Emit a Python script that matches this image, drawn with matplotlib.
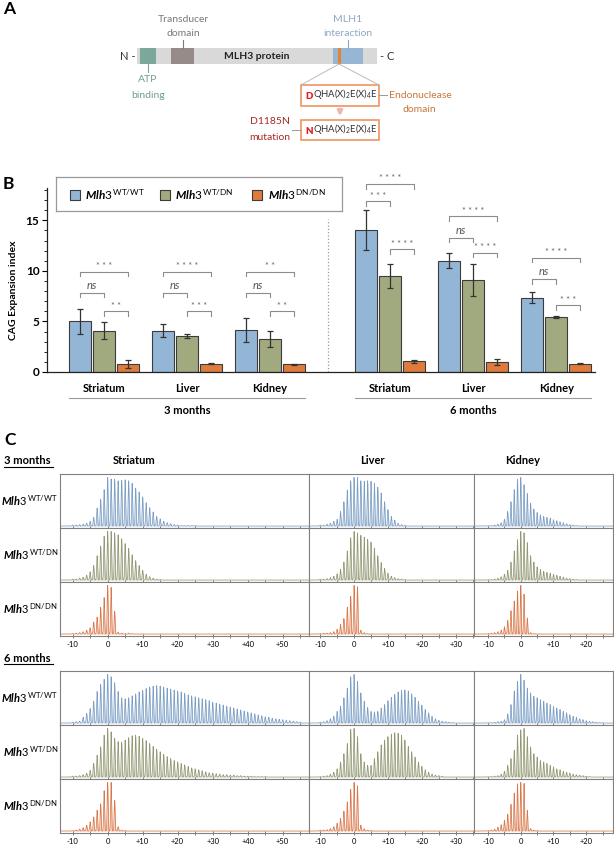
import numpy as np
import matplotlib
matplotlib.use('Agg')
import matplotlib.pyplot as plt
from matplotlib.patches import Rectangle
from matplotlib.lines import Line2D
from matplotlib.ticker import MultipleLocator

plt.rcParams['font.family'] = ['Lato', 'DejaVu Sans']
plt.rcParams['mathtext.fontset'] = 'custom'
plt.rcParams['mathtext.rm'] = 'Lato'
plt.rcParams['mathtext.it'] = 'Lato:italic:bold'
plt.rcParams['mathtext.bf'] = 'Lato:bold'

# ---------------- data ----------------
tissues = ['Striatum', 'Liver', 'Kidney']
ages = ['3 months', '6 months']
genotypes = ['WT/WT', 'WT/DN', 'DN/DN']

# panel B: CAG expansion index, order = 3m Str, Liv, Kid, 6m Str, Liv, Kid
cag_wtwt = [5.0, 4.1, 4.14, 14.04, 11.0, 7.35]
cag_wtdn = [4.1, 3.54, 3.28, 9.5, 9.1, 5.43]
cag_dndn = [0.83, 0.83, 0.76, 1.06, 0.99, 0.83]
err_wtwt = [1.25, 0.65, 1.17, 1.95, 0.75, 0.52]
err_wtdn = [0.87, 0.2, 0.78, 1.15, 1.55, 0.06]
err_dndn = [0.4, 0.05, 0.05, 0.15, 0.28, 0.03]

# significance: pairs (WT-DN, WT-WT/DN, WT/DN-DN)
sig_pairs = [(0, 2), (0, 1), (1, 2)]
sig_heights = [[9.9, 7.85, 6.03], [9.9, 7.85, 6.03], [9.9, 7.85, 6.03],
               [18.6, 16.9, 12.15], [15.4, 13.3, 11.8], [11.3, 9.2, 6.6]]
sig_labels = [['***', 'ns', '**'], ['****', 'ns', '***'], ['**', 'ns', '**'],
              ['****', '***', '****'], ['****', 'ns', '****'], ['****', 'ns', '***']]

# panel C: relative peak heights per CAG repeat change, first value at -10
REPEAT_START = -10
str_3m_wtwt = [0.02, 0.02, 0.03, 0.04, 0.06, 0.10, 0.18, 0.37, 0.55, 0.75, 1.00, 0.97, 0.96, 0.93,
               0.94, 0.95, 0.93, 0.88, 0.78, 0.70, 0.60, 0.48, 0.38, 0.29, 0.20, 0.15, 0.10, 0.07,
               0.05, 0.03, 0.02, 0.01, 0.01, 0.01, 0.01, 0.01]
str_3m_wtdn = [0.02, 0.02, 0.04, 0.06, 0.10, 0.17, 0.30, 0.50, 0.70, 0.90, 1.00, 1.00, 0.97, 0.93,
               0.85, 0.75, 0.65, 0.52, 0.40, 0.30, 0.20, 0.12, 0.07, 0.04, 0.02, 0.01]
str_3m_dndn = [0.01, 0.02, 0.03, 0.05, 0.08, 0.13, 0.25, 0.35, 0.55, 0.75, 1.00, 0.96, 0.47, 0.04,
               0.02, 0.01, 0.02, 0.01]
liv_3m_wtwt = [0.02, 0.02, 0.04, 0.06, 0.10, 0.14, 0.30, 0.50, 0.74, 0.93, 1.00, 1.00, 0.93, 0.92,
               0.93, 0.92, 0.88, 0.80, 0.68, 0.50, 0.34, 0.20, 0.12, 0.06, 0.03, 0.015]
liv_3m_wtdn = [0.02, 0.02, 0.03, 0.05, 0.08, 0.13, 0.22, 0.37, 0.60, 0.87, 1.00, 0.97, 0.92, 0.88,
               0.84, 0.78, 0.66, 0.50, 0.36, 0.24, 0.14, 0.08, 0.05, 0.03, 0.02, 0.01]
liv_3m_dndn = [0.01, 0.02, 0.02, 0.03, 0.05, 0.10, 0.20, 0.32, 0.55, 0.78, 1.00, 0.97, 0.08, 0.03, 0.01]
kid_3m_wtwt = [0.01, 0.01, 0.02, 0.04, 0.07, 0.14, 0.30, 0.50, 0.75, 0.96, 1.00, 0.85, 0.67, 0.47,
               0.35, 0.28, 0.23, 0.20, 0.18, 0.16, 0.13, 0.11, 0.09, 0.07, 0.05, 0.03, 0.02, 0.01]
kid_3m_wtdn = [0.01, 0.01, 0.02, 0.04, 0.07, 0.12, 0.20, 0.37, 0.60, 0.83, 1.00, 0.97, 0.77, 0.50,
               0.37, 0.27, 0.22, 0.18, 0.16, 0.14, 0.12, 0.10, 0.08, 0.06, 0.04, 0.03, 0.02, 0.01]
kid_3m_dndn = [0.01, 0.02, 0.03, 0.05, 0.08, 0.15, 0.28, 0.48, 0.68, 0.88, 1.00, 0.82, 0.33, 0.03, 0.01]

str_6m_wtwt = [0.02, 0.03, 0.04, 0.12, 0.20, 0.30, 0.45, 0.65, 0.80, 0.90, 1.00, 0.95, 0.83, 0.65,
               0.52, 0.50, 0.52, 0.56, 0.60, 0.64, 0.67, 0.71, 0.74, 0.76, 0.77, 0.76, 0.74, 0.72,
               0.70, 0.68, 0.66, 0.64, 0.61, 0.58, 0.56, 0.54, 0.52, 0.50, 0.48, 0.46, 0.43, 0.41,
               0.39, 0.37, 0.35, 0.33, 0.31, 0.29, 0.27, 0.25, 0.23, 0.21, 0.19, 0.17, 0.15, 0.13,
               0.12, 0.10, 0.09, 0.08, 0.07, 0.06, 0.05, 0.04, 0.03, 0.02]
str_6m_wtdn = [0.02, 0.02, 0.03, 0.05, 0.08, 0.14, 0.28, 0.45, 0.62, 0.86, 1.00, 0.93, 0.80, 0.73,
               0.72, 0.76, 0.81, 0.85, 0.86, 0.84, 0.80, 0.75, 0.69, 0.63, 0.57, 0.52, 0.47, 0.42,
               0.38, 0.34, 0.31, 0.28, 0.25, 0.22, 0.19, 0.17, 0.15, 0.13, 0.11, 0.09, 0.08, 0.07,
               0.06, 0.05, 0.05, 0.04, 0.04, 0.03, 0.03, 0.02, 0.02, 0.02, 0.01, 0.01, 0.01, 0.01]
str_6m_dndn = [0.01, 0.02, 0.04, 0.07, 0.12, 0.19, 0.29, 0.43, 0.56, 0.83, 1.00, 1.00, 0.63, 0.09,
               0.02, 0.01]
liv_6m_wtwt = [0.02, 0.03, 0.05, 0.09, 0.14, 0.24, 0.35, 0.52, 0.72, 0.95, 1.00, 0.86, 0.62, 0.45,
               0.32, 0.24, 0.23, 0.24, 0.31, 0.38, 0.46, 0.53, 0.59, 0.64, 0.67, 0.68, 0.66, 0.60,
               0.53, 0.45, 0.37, 0.28, 0.21, 0.14, 0.09, 0.06, 0.04, 0.03, 0.02, 0.01]
liv_6m_wtdn = [0.01, 0.02, 0.03, 0.06, 0.10, 0.17, 0.31, 0.48, 0.69, 0.98, 1.00, 0.83, 0.48, 0.31,
               0.24, 0.24, 0.38, 0.52, 0.66, 0.76, 0.83, 0.88, 0.91, 0.90, 0.86, 0.76, 0.63, 0.52,
               0.41, 0.31, 0.22, 0.15, 0.10, 0.06, 0.04, 0.03, 0.02]
liv_6m_dndn = [0.02, 0.02, 0.03, 0.05, 0.09, 0.16, 0.26, 0.41, 0.60, 0.86, 1.00, 0.93, 0.12, 0.05,
               0.02, 0.01]
kid_6m_wtwt = [0.01, 0.01, 0.02, 0.03, 0.04, 0.07, 0.19, 0.38, 0.66, 0.86, 1.00, 0.88, 0.72, 0.62,
               0.55, 0.52, 0.48, 0.45, 0.41, 0.38, 0.34, 0.31, 0.28, 0.24, 0.21, 0.17, 0.14, 0.12,
               0.09, 0.07, 0.05, 0.04, 0.03, 0.02, 0.01, 0.01]
kid_6m_wtdn = [0.01, 0.01, 0.02, 0.03, 0.06, 0.12, 0.24, 0.38, 0.55, 0.86, 0.97, 1.00, 0.83, 0.62,
               0.48, 0.41, 0.34, 0.31, 0.28, 0.24, 0.21, 0.17, 0.15, 0.12, 0.10, 0.08, 0.06, 0.05,
               0.04, 0.03, 0.02, 0.01]
kid_6m_dndn = [0.01, 0.02, 0.04, 0.08, 0.13, 0.22, 0.35, 0.55, 0.78, 0.97, 1.00, 0.98, 0.43, 0.05,
               0.02, 0.01]

BAR_COLORS = ['#94B6D6', '#A1AA7E', '#E07B3E']
LINE_COLORS = ['#7C9EC4', '#929874', '#D9774A']
FILL_COLORS = ['#CCDBEA', '#D9DCCB', '#F4CFBC']

W, H = 614, 844
fig = plt.figure(figsize=(W / 100, H / 100), dpi=100)


def px_rect(x0, y0, x1, y1):
    return [x0 / W, 1 - y1 / H, (x1 - x0) / W, (y1 - y0) / H]


def fig_xy(x, y):
    return x / W, 1 - y / H


def gt_label(sup):
    return r'$\mathit{Mlh3}^{\,\mathrm{%s}}$' % sup


for letter, (lx, ly) in zip('ABC', [(3, 9), (3, 184), (4, 440)]):
    fig.text(*fig_xy(lx, ly), letter, fontsize=12.5, fontweight='bold', va='center', ha='left')

# ---------------- panel A: schematic ----------------
ax_a = fig.add_axes(px_rect(0, 0, W, 170))
ax_a.set_xlim(0, W)
ax_a.set_ylim(170, 0)
ax_a.axis('off')

ax_a.add_patch(Rectangle((137, 48), 240, 16, fc='#D9D9D9', ec='none'))
ax_a.add_patch(Rectangle((140, 48), 16, 16, fc='#7BA89A', ec='none'))
ax_a.add_patch(Rectangle((171, 48), 23, 16, fc='#968B89', ec='none'))
ax_a.add_patch(Rectangle((333, 48), 30, 16, fc='#96B6D3', ec='none'))
ax_a.add_patch(Rectangle((338, 48), 2.5, 16, fc='#E8822E', ec='none'))
ax_a.text(257, 56.5, 'MLH3 protein', ha='center', va='center', fontsize=7.5, fontweight='bold', color='#222222')
ax_a.text(135, 56.5, 'N -', ha='right', va='center', fontsize=8, color='#333333')
ax_a.text(380, 56.5, '- C', ha='left', va='center', fontsize=8, color='#333333')

ax_a.plot([148, 148], [64, 72], color='#7BA89A', lw=0.8)
ax_a.text(148, 80, 'ATP', ha='center', va='center', fontsize=7.5, color='#6E9E8E')
ax_a.text(148, 95, 'binding', ha='center', va='center', fontsize=7.5, color='#6E9E8E')
ax_a.plot([183, 183], [40, 48], color='#7A7A7A', lw=0.8)
ax_a.text(183, 19, 'Transducer', ha='center', va='center', fontsize=7.5, color='#7A7A7A')
ax_a.text(183, 34, 'domain', ha='center', va='center', fontsize=7.5, color='#7A7A7A')
ax_a.plot([348, 348], [40, 48], color='#8DA8C6', lw=0.8)
ax_a.text(348, 19, 'MLH1', ha='center', va='center', fontsize=7.5, color='#8DA8C6')
ax_a.text(348, 34, 'interaction', ha='center', va='center', fontsize=7.5, color='#8DA8C6')

ax_a.plot([339, 301], [64, 85], color='#BBBBBB', lw=0.7)
ax_a.plot([339, 379], [64, 85], color='#BBBBBB', lw=0.7)
for y0, y1, first in [(85, 106, 'D'), (120, 140, 'N')]:
    ax_a.add_patch(Rectangle((301, y0), 78, y1 - y0, fc='white', ec='#EE9560', lw=1.2))
    yb = (y0 + y1) / 2 + 3.5
    t_first = ax_a.text(305, yb, first, ha='left', va='baseline', fontsize=7, fontweight='heavy',
                        color='#E02020')
    ax_a.annotate(r'$\mathrm{QHA(X)_2E(X)_4E}$', xy=(1, 0), xycoords=t_first, xytext=(0.1, 0),
                  textcoords='offset points', ha='left', va='bottom', fontsize=6.8, color='#333333')
ax_a.plot([379, 387], [95, 95], color='#999999', lw=0.7)
ax_a.text(389, 95, 'Endonuclease', ha='left', va='center', fontsize=7.5, color='#C8783A')
ax_a.text(419, 110, 'domain', ha='center', va='center', fontsize=7.5, color='#C8783A')
ax_a.annotate('', xy=(340, 119), xytext=(340, 107),
              arrowprops=dict(arrowstyle='-|>', color='#F2B5AE', lw=2, mutation_scale=7))
ax_a.plot([292, 301], [130, 130], color='#999999', lw=0.7)
ax_a.text(270, 122, 'D1185N', ha='center', va='center', fontsize=7.5, color='#A52A2A')
ax_a.text(270, 137, 'mutation', ha='center', va='center', fontsize=7.5, color='#A52A2A')

# ---------------- panel B: bars ----------------
ax_b = fig.add_axes(px_rect(47, 188, 595, 372))
group_x = np.array([0, 1, 2, 3.45, 4.45, 5.45])
offsets = [-0.29, 0, 0.29]
vals_all = [cag_wtwt, cag_wtdn, cag_dndn]
errs_all = [err_wtwt, err_wtdn, err_dndn]
for k in range(3):
    xs = group_x + offsets[k]
    ax_b.bar(xs, vals_all[k], width=0.265, color=BAR_COLORS[k], edgecolor='#3c3c3c', lw=0.8, zorder=2)
    ax_b.errorbar(xs, vals_all[k], yerr=errs_all[k], fmt='none', ecolor='#333333', elinewidth=0.9,
                  capsize=2, capthick=0.9, zorder=3)

ax_b.set_xlim(-0.687, 5.916)
ax_b.set_ylim(0, 18.2)
ax_b.set_yticks([0, 5, 10, 15])
ax_b.yaxis.set_minor_locator(MultipleLocator(1))
ax_b.set_xticks([])
ax_b.tick_params(axis='y', which='major', length=3.5, width=0.8, labelsize=8.5, pad=2)
ax_b.tick_params(axis='y', which='minor', length=2, width=0.6)
for lab in ax_b.get_yticklabels():
    lab.set_fontweight('bold')
for s in ['top', 'right']:
    ax_b.spines[s].set_visible(False)
for s in ['left', 'bottom']:
    ax_b.spines[s].set_color('#222222')
    ax_b.spines[s].set_linewidth(0.9)
ax_b.axvline(2.70, ymin=0, ymax=0.83, color='#999999', lw=0.9, ls=':')
fig.text(*fig_xy(14, 290), 'CAG Expansion index', rotation=90, ha='center', va='center',
         fontsize=7.5, fontweight='bold')

xt = ax_b.get_xaxis_transform()
for g in range(6):
    ax_b.text(group_x[g], -0.087, tissues[g % 3], transform=xt, ha='center', va='center',
              fontsize=8, fontweight='bold')
    for (i, j), h, lab in zip(sig_pairs, sig_heights[g], sig_labels[g]):
        x0, x1 = group_x[g] + offsets[i], group_x[g] + offsets[j]
        ax_b.plot([x0, x0, x1, x1], [h - 0.45, h, h, h - 0.45], color='#8c8c8c', lw=0.8, clip_on=False)
        if lab == 'ns':
            ax_b.text((x0 + x1) / 2, h + 0.2, lab, ha='center', va='bottom', fontsize=8,
                      style='italic', color='#555555', clip_on=False)
        else:
            ax_b.text((x0 + x1) / 2, h + 0.05, ' '.join(lab), ha='center', va='bottom', fontsize=6.5,
                      color='#666666', clip_on=False)
for a, mid in enumerate([1, 4.45]):
    ax_b.plot([mid - 1.42, mid + 1.42], [-0.141, -0.141], transform=xt, color='#999999', lw=0.8,
              clip_on=False)
    ax_b.text(mid, -0.207, ages[a], transform=xt, ha='center', va='center', fontsize=8, fontweight='bold')

# legend
ax_l = fig.add_axes(px_rect(56, 177, 342, 211))
ax_l.set_xlim(56, 342)
ax_l.set_ylim(211, 177)
ax_l.set_xticks([])
ax_l.set_yticks([])
for s in ax_l.spines.values():
    s.set_color('#999999')
    s.set_linewidth(0.9)
for k, (sx, tx) in enumerate([(75, 85), (165, 175), (257, 268)]):
    ax_l.scatter([sx], [194.5], marker='s', s=42, color=BAR_COLORS[k], edgecolor='#3c3c3c', lw=0.8)
    ax_l.text(tx, 194.5, gt_label(genotypes[k]), ha='left', va='center', fontsize=8.5)

# ---------------- panel C: repeat profiles ----------------
col_px = [(60, 309), (309, 474), (474, 613)]
col_xlim = [(-13.6, 57.5), (-13.3, 35.4), (-14.3, 28.2)]
col_ticks = [list(range(-10, 51, 10)), list(range(-10, 31, 10)), list(range(-10, 21, 10))]
traces_3m = [[str_3m_wtwt, liv_3m_wtwt, kid_3m_wtwt],
             [str_3m_wtdn, liv_3m_wtdn, kid_3m_wtdn],
             [str_3m_dndn, liv_3m_dndn, kid_3m_dndn]]
traces_6m = [[str_6m_wtwt, liv_6m_wtwt, kid_6m_wtwt],
             [str_6m_wtdn, liv_6m_wtdn, kid_6m_wtdn],
             [str_6m_dndn, liv_6m_dndn, kid_6m_dndn]]

for blk, (top, traces, age_y) in enumerate([(474, traces_3m, 461), (671, traces_6m, 658)]):
    fig.text(*fig_xy(4, age_y), ages[blk], ha='left', va='center', fontsize=8, fontweight='bold')
    fig.add_artist(Line2D([4 / W, 53 / W], [1 - (age_y + 6) / H] * 2, color='black', lw=0.8))
    if blk == 0:
        for c, cx in enumerate([134, 372, 523]):
            fig.text(*fig_xy(cx, age_y), tissues[c], ha='center', va='center', fontsize=8, fontweight='bold')
    for r in range(3):
        y0 = top + 54 * r
        fig.text(*fig_xy(58, y0 + 27), gt_label(genotypes[r]), ha='right', va='center', fontsize=8)
        for c in range(3):
            ax = fig.add_axes(px_rect(col_px[c][0], y0, col_px[c][1], y0 + 54))
            lo, hi = col_xlim[c]
            heights = np.array(traces[r][c])
            pos = REPEAT_START + np.arange(len(heights))
            xg = np.arange(lo, hi, 0.02)
            yg = (heights[:, None] * np.exp(-0.5 * ((xg[None, :] - pos[:, None]) / 0.13) ** 2)).sum(0)
            ax.fill_between(xg, 0, yg, color=FILL_COLORS[r], lw=0)
            ax.plot(xg, yg, color=LINE_COLORS[r], lw=0.55)
            ax.set_xlim(lo, hi)
            ax.set_ylim(-0.04, 1.07)
            ax.set_yticks([])
            ax.set_xticks(col_ticks[c])
            ax.set_xticklabels(['0' if t == 0 else ('%+d' % t) for t in col_ticks[c]])
            ax.xaxis.set_minor_locator(MultipleLocator(5))
            ax.tick_params(axis='x', which='both', direction='inout', length=2.5, width=0.6,
                           color='#666666', labelsize=5.5, pad=2, labelbottom=(r == 2))
            for t in ax.xaxis.get_major_ticks():
                if t.get_loc() == 0:
                    t.tick1line.set_color('#E03020')
            for s in ax.spines.values():
                s.set_color('#808080')
                s.set_linewidth(0.8)

fig.savefig('out.png', dpi=100)
